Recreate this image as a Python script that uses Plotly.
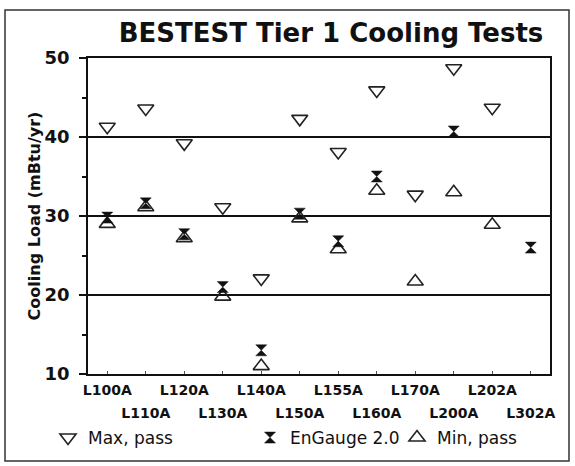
import plotly.graph_objects as go

tests = ["L100A", "L110A", "L120A", "L130A", "L140A", "L150A",
         "L155A", "L160A", "L170A", "L200A", "L202A", "L302A"]
max_pass = [41.3, 43.6, 39.2, 31.1, 22.1, 42.3, 38.1, 45.9, 32.7, 48.7, 43.7, None]
engauge = [29.8, 31.6, 27.7, 21.0, 13.0, 30.3, 26.8, 35.0, None, 40.7, None, 26.0]
min_pass = [29.0, 31.1, 27.2, 19.8, 11.0, 29.7, 25.8, 33.2, 21.7, 33.0, 28.9, None]

ytick_vals = [10, 20, 30, 40, 50]

W, H = 575, 466
L, R, T, B = 88, 25, 58, 92
pw, ph = W - L - R, H - T - B
FONT = "DejaVu Sans, Liberation Sans, Arial"


def px_x(x):
    return (x - L) / pw


def px_y(y):
    return (H - B - y) / ph


x = list(range(len(tests)))
row1_vals = x[0::2]
row1_text = ["<b>" + t + "</b>" for t in tests[0::2]]
row2_vals = x[1::2]
row2_text = ["<b>" + t + "</b>" for t in tests[1::2]]

fig = go.Figure()
fig.add_trace(go.Scatter(
    x=x, y=max_pass, mode="markers", name="Max, pass", legend="legend",
    marker=dict(symbol="triangle-down-open", size=14, color="#222",
                line=dict(width=1.6, color="#222"))))
fig.add_trace(go.Scatter(
    x=x, y=engauge, mode="markers", name="EnGauge 2.0", legend="legend2",
    xaxis="x2",
    marker=dict(symbol="hourglass", size=11, color="#111",
                line=dict(width=0.5, color="#111"))))
fig.add_trace(go.Scatter(
    x=x, y=min_pass, mode="markers", name="Min, pass", legend="legend3",
    marker=dict(symbol="triangle-up-open", size=14, color="#222",
                line=dict(width=1.6, color="#222"))))

leg_font = dict(family=FONT, size=17, color="#111")
common_leg = dict(orientation="h", yanchor="middle", xanchor="left",
                  font=leg_font, bgcolor="rgba(0,0,0,0)", borderwidth=0,
                  itemwidth=30)
tick_font = dict(size=14, color="#111", family=FONT)
fig.update_layout(
    width=W, height=H,
    margin=dict(l=L, r=R, t=T, b=B, autoexpand=False),
    paper_bgcolor="white", plot_bgcolor="white",
    font=dict(family=FONT, color="#111"),
    title=dict(text="<b>BESTEST Tier 1 Cooling Tests</b>",
               x=331 / W, xanchor="center", y=1 - 33 / H, yanchor="middle",
               font=dict(size=26, color="#111", family=FONT)),
    showlegend=True,
    legend=dict(x=px_x(48), y=px_y(438), **common_leg),
    legend2=dict(x=px_x(250), y=px_y(438), **common_leg),
    legend3=dict(x=px_x(397), y=px_y(438), **common_leg),
    xaxis=dict(range=[-0.5, 11.5], tickmode="array", tickvals=row1_vals,
               ticktext=row1_text, tickangle=0, showline=True,
               linecolor="#111", linewidth=1.5, mirror=True,
               ticks="inside", ticklen=3, tickcolor="#555",
               ticklabelstandoff=2, automargin=False,
               showgrid=False, zeroline=False, tickfont=tick_font,
               fixedrange=True),
    xaxis2=dict(range=[-0.5, 11.5], overlaying="x", side="bottom",
                anchor="y", tickmode="array", tickvals=row2_vals,
                ticktext=row2_text, tickangle=0, showline=False,
                ticks="inside", ticklen=3, tickcolor="#555",
                ticklabelstandoff=29, automargin=False,
                showgrid=False, zeroline=False, tickfont=tick_font,
                fixedrange=True),
    yaxis=dict(range=[10, 50], tickmode="array", tickvals=ytick_vals,
               ticktext=["<b>%d</b>" % v for v in ytick_vals],
               showline=True, linecolor="#111", linewidth=1.5, mirror=True,
               ticks="outside", ticklen=7, tickcolor="#111", tickwidth=1.5,
               ticklabelstandoff=6, automargin=False,
               minor=dict(ticks="outside", dtick=5, ticklen=4,
                          tickcolor="#111", tickwidth=1.5),
               showgrid=True, gridcolor="#111", gridwidth=1.5,
               zeroline=False,
               tickfont=dict(size=18, color="#111", family=FONT),
               title=dict(text="<b>Cooling Load (mBtu/yr)</b>",
                          font=dict(size=16, color="#111", family=FONT),
                          standoff=0),
               fixedrange=True),
)

# outer frame of the figure
fig.add_shape(type="rect", xref="paper", yref="paper",
              x0=px_x(5), x1=px_x(569), y0=px_y(461), y1=px_y(10),
              line=dict(color="#333", width=1.5), layer="below")

fig.write_html("out.html",
               config={"displayModeBar": False},
               post_script="document.body.style.margin='0';"
                           "document.body.style.overflow='hidden';")
